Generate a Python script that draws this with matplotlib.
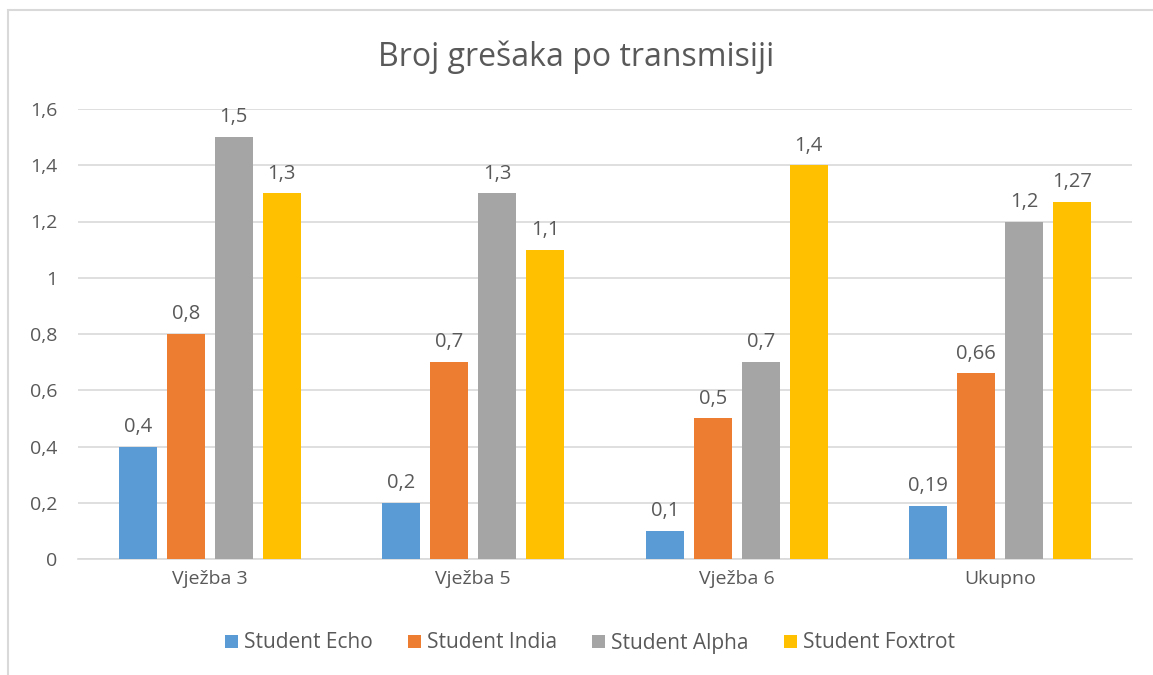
import matplotlib.pyplot as plt
import numpy as np
from matplotlib.patches import Rectangle

categories = ['Vježba 3', 'Vježba 5', 'Vježba 6', 'Ukupno']
series_names = ['Student Echo', 'Student India', 'Student Alpha', 'Student Foxtrot']
echo = [0.4, 0.2, 0.1, 0.19]
india = [0.8, 0.7, 0.5, 0.66]
alpha = [1.5, 1.3, 0.7, 1.2]
foxtrot = [1.3, 1.1, 1.4, 1.27]
series_vals = [echo, india, alpha, foxtrot]
colors = ['#5B9BD5', '#ED7D31', '#A5A5A5', '#FFC000']
yticks = [0, 0.2, 0.4, 0.6, 0.8, 1.0, 1.2, 1.4, 1.6]

txt = '#595959'
plt.rcParams['font.family'] = ['Open Sans', 'DejaVu Sans']

fig = plt.figure(figsize=(11.53, 6.75), dpi=100)
ax = fig.add_axes([78 / 1153, 1 - 559 / 675, 1054 / 1153, 450 / 675])

# chart border (right/bottom edges fall outside the image)
fig.patches.append(Rectangle((8 / 1153, -0.05), 1.2, 1 - 10 / 675 + 0.05,
                             transform=fig.transFigure, fill=False,
                             edgecolor='#d9d9d9', lw=1.5))

x = np.arange(len(categories))
w = 0.144
step = 0.182
for i, (name, vals, c) in enumerate(zip(series_names, series_vals, colors)):
    pos = x + (i - 1.5) * step
    bars = ax.bar(pos, vals, width=w, color=c, label=name, zorder=3)
    for b, v in zip(bars, vals):
        lab = f'{v:g}'.replace('.', ',')
        ax.annotate(lab, (b.get_x() + b.get_width() / 2, v), xytext=(0, 7),
                    textcoords='offset points', ha='center', va='bottom',
                    fontsize=14.5, color=txt)

ax.set_xlim(-0.5, len(categories) - 0.5)
ax.set_ylim(0, 1.6)
ax.set_yticks(yticks)
ax.set_yticklabels([f'{t:g}'.replace('.', ',') for t in yticks])
ax.set_xticks(x)
ax.set_xticklabels(categories)
ax.tick_params(length=0, labelsize=14, labelcolor=txt)
ax.tick_params(axis='y', pad=15)
ax.tick_params(axis='x', pad=8)
ax.grid(axis='y', color='#d9d9d9', lw=1.2, zorder=0)
for s in ['top', 'right', 'left']:
    ax.spines[s].set_visible(False)
ax.spines['bottom'].set_color('#d9d9d9')
ax.spines['bottom'].set_linewidth(1.2)

fig.text(0.5, 1 - 57 / 675, 'Broj grešaka po transmisiji', ha='center', va='center',
         fontsize=23, color=txt)

fig.legend(loc='center', bbox_to_anchor=(590 / 1153, 1 - 643 / 675), ncol=4,
           frameon=False, fontsize=15, labelcolor=txt, handlelength=0.6,
           handleheight=0.6, handletextpad=0.3, columnspacing=1.7)

fig.savefig('out.png', dpi=100)
